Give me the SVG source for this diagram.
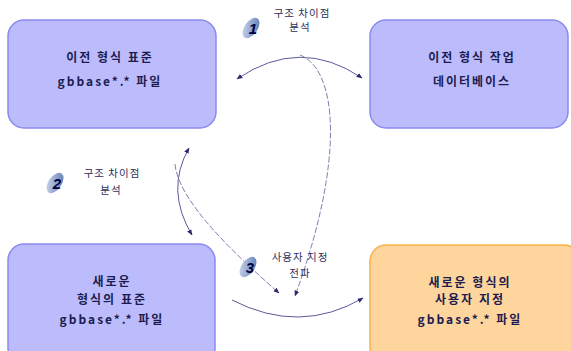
<svg xmlns="http://www.w3.org/2000/svg" width="571" height="351" viewBox="0 0 571 351">
<style>
.box{fill:#bcbcfc;stroke:#8a8af0;stroke-width:1.5}
.obox{fill:#fed59c;stroke:#f8b24a;stroke-width:1.5}
.bt{font-family:"Noto Sans CJK KR","Liberation Sans",sans-serif;font-size:12px;font-weight:bold;fill:#1c1c50;text-anchor:middle;letter-spacing:2px}
.lt{font-family:"Noto Sans CJK KR","Liberation Sans",sans-serif;font-size:10.5px;fill:#2e2e5a;text-anchor:middle;letter-spacing:1px}
.num{font-family:"Liberation Sans",sans-serif;font-size:15px;font-weight:bold;font-style:italic;fill:#000040;text-anchor:middle}
.c{fill:none;stroke:#5a5a9c;stroke-width:1}
.d{fill:none;stroke:#8080b0;stroke-width:1;stroke-dasharray:6 2}
</style>
<defs>
<marker id="ah" viewBox="0 0 10 10" refX="9" refY="5" markerWidth="6" markerHeight="6" orient="auto-start-reverse" markerUnits="userSpaceOnUse">
<path d="M0,1 L10,5 L0,9 z" fill="#2a2a70"/>
</marker>
<linearGradient id="bg" x1="0" y1="0" x2="1" y2="1">
<stop offset="0" stop-color="#d4ddf4"/>
<stop offset="1" stop-color="#5676b0"/>
</linearGradient>
</defs>

<g id="node-old-standard">
<rect class="box" x="8" y="20" width="208" height="108" rx="16"/>
<text class="bt" x="110" y="62">이전 형식 표준</text>
<text class="bt" x="110" y="86">gbbase*.* 파일</text>
</g>
<g id="node-old-db">
<rect class="box" x="370" y="20" width="198" height="108" rx="16"/>
<text class="bt" x="472" y="62">이전 형식 작업</text>
<text class="bt" x="472" y="86">데이터베이스</text>
</g>
<g id="node-new-standard">
<rect class="box" x="8" y="244" width="207" height="120" rx="16"/>
<text class="bt" x="112" y="286">새로운</text>
<text class="bt" x="112" y="304">형식의 표준</text>
<text class="bt" x="112" y="324">gbbase*.* 파일</text>
</g>
<g id="node-new-custom">
<rect class="obox" x="370" y="245" width="210" height="120" rx="16"/>
<text class="bt" x="470" y="287">새로운 형식의</text>
<text class="bt" x="470" y="304">사용자 지정</text>
<text class="bt" x="470" y="324">gbbase*.* 파일</text>
</g>

<g id="connectors">
<path class="c" d="M237 79 Q300 36 362 78" marker-start="url(#ah)" marker-end="url(#ah)"/>
<path class="d" d="M300 55 C338 70 345 160 295 296" marker-end="url(#ah)"/>
<path class="c" d="M189 148 Q165 190 192 235" marker-start="url(#ah)" marker-end="url(#ah)"/>
<path class="d" d="M175 164 C178 200 232 252 279 293" marker-end="url(#ah)"/>
<path class="c" d="M232 300 Q300 335 363 298" marker-end="url(#ah)"/>
</g>

<g id="label-1">
<ellipse cx="251" cy="28" rx="11.5" ry="6.5" transform="rotate(-55 251 28)" fill="url(#bg)"/>
<text class="num" x="253" y="34">1</text>
<text class="lt" x="302" y="17">구조 차이점</text>
<text class="lt" x="300" y="31">분석</text>
</g>
<g id="label-2">
<ellipse cx="55" cy="183" rx="11.5" ry="6.5" transform="rotate(-55 55 183)" fill="url(#bg)"/>
<text class="num" x="57" y="189">2</text>
<text class="lt" x="112" y="177">구조 차이점</text>
<text class="lt" x="111" y="194">분석</text>
</g>
<g id="label-3">
<ellipse cx="248" cy="267" rx="11.5" ry="6.5" transform="rotate(-55 248 267)" fill="url(#bg)"/>
<text class="num" x="250" y="273">3</text>
<text class="lt" x="300" y="261">사용자 지정</text>
<text class="lt" x="300" y="277">전파</text>
</g>
</svg>
